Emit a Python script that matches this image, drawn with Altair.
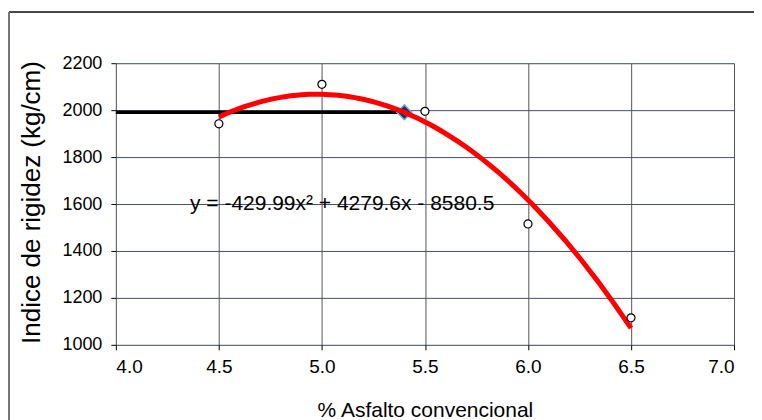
import altair as alt
import pandas as pd

# data
asphalt = [4.5, 5.0, 5.5, 6.0, 6.5]
rigidity = [1942, 2110, 1995, 1515, 1115]
opt_x = [4.0, 5.4]
opt_y = [1991, 1991]
diamond_x = [5.4]
diamond_y = [1991]
eq_label = ["y = -429.99x\u00b2 + 4279.6x - 8580.5"]
eq_x = [4.36]
eq_y = [1600]
x_ticks = [4.0, 4.5, 5.0, 5.5, 6.0, 6.5, 7.0]
y_ticks = [1000, 1200, 1400, 1600, 1800, 2000, 2200]

W, H = 619, 282
FONT = "Liberation Sans"

pts = pd.DataFrame({"x": asphalt, "y": rigidity})
opt = pd.DataFrame({"x": opt_x, "y": opt_y})
dia = pd.DataFrame({"x": diamond_x, "y": diamond_y})
eq = pd.DataFrame({"x": eq_x, "y": eq_y, "t": eq_label})

xs = alt.Scale(domain=[4.0, 7.0], nice=False, zero=False)
ys = alt.Scale(domain=[1000, 2200], nice=False, zero=False)

xax = alt.Axis(values=x_ticks, format=".1f", title="% Asfalto convencional",
               grid=True, gridColor="#555555", gridWidth=1,
               domain=False, tickColor="black", tickSize=5,
               labelFont=FONT, labelFontSize=19, labelColor="black", labelPadding=8,
               titleFont=FONT, titleFontSize=21, titleFontWeight="normal", titleColor="black",
               titleY=66, titleBaseline="middle")
yax = alt.Axis(values=y_ticks, format="d", title="Indice de rigidez (kg/cm)",
               grid=True, gridColor="#46506a", gridWidth=1,
               domain=False, tickColor="black", tickSize=5,
               labelFont=FONT, labelFontSize=18, labelColor="black", labelPadding=9,
               titleFont=FONT, titleFontSize=26, titleFontWeight="normal", titleColor="black",
               titleX=-84, titleY=H / 2 - 2, titleBaseline="middle", titleAlign="center")

base_axes = alt.Chart(pts).mark_point(opacity=0).encode(
    x=alt.X("x:Q", scale=xs, axis=xax),
    y=alt.Y("y:Q", scale=ys, axis=yax),
)

opt_line = alt.Chart(opt).mark_line(color="black", strokeWidth=3.5).encode(
    x=alt.X("x:Q", scale=xs), y=alt.Y("y:Q", scale=ys))

diamond = alt.Chart(dia).mark_point(shape="diamond", filled=True, fill="#1f2f55",
                                    stroke="#6fa8dc", strokeWidth=1.5, size=220,
                                    opacity=1).encode(
    x=alt.X("x:Q", scale=xs), y=alt.Y("y:Q", scale=ys))

curve = alt.Chart(pts).transform_regression("x", "y", method="poly", order=2).mark_line(
    color="#ff0000", strokeWidth=5).encode(
    x=alt.X("x:Q", scale=xs), y=alt.Y("y:Q", scale=ys))

circles = alt.Chart(pts).mark_point(shape="circle", filled=True, fill="white",
                                    stroke="black", strokeWidth=1.2, size=65,
                                    opacity=1).encode(
    x=alt.X("x:Q", scale=xs), y=alt.Y("y:Q", scale=ys))

label = alt.Chart(eq).mark_text(align="left", baseline="middle", font=FONT,
                                fontSize=21, color="black").encode(
    x=alt.X("x:Q", scale=xs), y=alt.Y("y:Q", scale=ys), text="t:N")

border_top = alt.Chart(pts).mark_rule(color="#444444", strokeWidth=1.5).encode(
    x=alt.value(-107), x2=alt.value(W + 30), y=alt.value(-51))
border_left = alt.Chart(pts).mark_rule(color="#777777", strokeWidth=1.5).encode(
    x=alt.value(-107), y=alt.value(-51), y2=alt.value(H + 90))

chart = alt.layer(base_axes, border_top, border_left, opt_line, diamond, curve,
                  circles, label).properties(
    width=W, height=H,
    autosize=alt.AutoSizeParams(type="none"),
    padding={"left": 108, "top": 55, "right": 20, "bottom": 80},
).configure_view(stroke="black", strokeWidth=2.5).configure(background="white")

chart.save("out.html", embed_options={"renderer": "svg", "actions": False})
